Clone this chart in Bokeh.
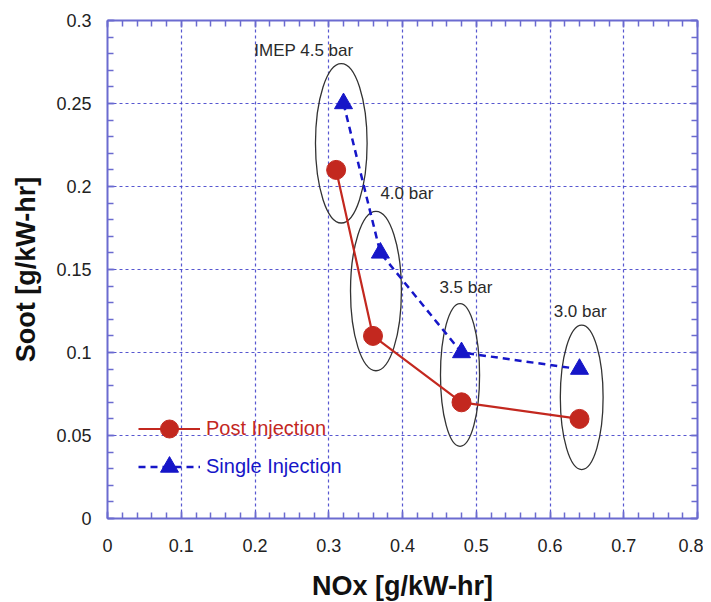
import numpy as np
from bokeh.plotting import figure
from bokeh.models import (LinearAxis, FixedTicker, CustomJSTickFormatter, Legend,
                          LegendItem, Range1d)
from bokeh.core.properties import value
from bokeh.embed import file_html
from bokeh.resources import INLINE

# ---- data ----
post_nox = [0.31, 0.36, 0.48, 0.64]
post_soot = [0.21, 0.11, 0.07, 0.06]
single_nox = [0.32, 0.37, 0.48, 0.64]
single_soot = [0.25, 0.16, 0.10, 0.09]

ell_x = [0.317, 0.364, 0.478, 0.643]
ell_y = [0.226, 0.137, 0.0865, 0.073]
ell_w = [0.070, 0.069, 0.053, 0.058]
ell_h = [0.096, 0.096, 0.086, 0.087]

ann_text = ["IMEP 4.5 bar", "4.0 bar", "3.5 bar", "3.0 bar"]
ann_x = [0.199, 0.37, 0.45, 0.605]
ann_y = [0.282, 0.196, 0.139, 0.125]

x_ticks = [0, 0.1, 0.2, 0.3, 0.4, 0.5, 0.6, 0.7, 0.8]
y_ticks = [0, 0.05, 0.1, 0.15, 0.2, 0.25, 0.3]
x_minor = [round(v, 3) for v in np.arange(0, 0.8001, 0.02)]
y_minor = [round(v, 3) for v in np.arange(0, 0.3001, 0.01)]

FONT = "Liberation Sans"
AXIS_BLUE = "#6b6bd0"
GRID_BLUE = "#3a3ac8"
RED = "#c3281f"
BLUE = "#1616c8"

p = figure(frame_width=590, frame_height=498, output_backend="svg", toolbar_location=None,
           x_range=Range1d(0, 0.8), y_range=Range1d(0, 0.3),
           min_border_left=107, min_border_right=6, min_border_top=20, min_border_bottom=72,
           background_fill_color="white", border_fill_color="white")
p.outline_line_color = None

fmt = CustomJSTickFormatter(code="""
var s = tick.toFixed(2);
s = s.replace(/0+$/, '').replace(/\\.$/, '');
return s;
""")
blank = CustomJSTickFormatter(code="return '';")

def style_axis(ax, ticks, minor, show_labels):
    ax.ticker = FixedTicker(ticks=ticks, minor_ticks=minor)
    ax.axis_line_color = AXIS_BLUE
    ax.axis_line_width = 2
    ax.major_tick_line_color = AXIS_BLUE
    ax.minor_tick_line_color = AXIS_BLUE
    ax.major_tick_line_width = 1.5
    ax.minor_tick_line_width = 1.5
    ax.major_tick_in = 7
    ax.major_tick_out = 0
    ax.minor_tick_in = 6
    ax.minor_tick_out = 0
    if show_labels:
        ax.formatter = fmt
        ax.major_label_text_font = FONT
        ax.major_label_text_font_size = "18px"
        ax.major_label_text_color = "#222222"
    else:
        ax.formatter = blank
        ax.major_label_standoff = 0

xa = p.xaxis[0]
ya = p.yaxis[0]
style_axis(xa, x_ticks, x_minor, True)
style_axis(ya, y_ticks, y_minor, True)
xa.major_label_standoff = 20
ya.major_label_standoff = 16
xa.axis_label = "NOx [g/kW-hr]"
ya.axis_label = "Soot [g/kW-hr]"
for ax in (xa, ya):
    ax.axis_label_text_font = FONT
    ax.axis_label_text_font_size = "27px"
    ax.axis_label_text_font_style = "bold"
    ax.axis_label_text_color = "#111111"
xa.axis_label_standoff = 16
ya.axis_label_standoff = 12

top = LinearAxis()
style_axis(top, x_ticks, x_minor, False)
p.add_layout(top, "above")
right = LinearAxis()
style_axis(right, y_ticks, y_minor, False)
p.add_layout(right, "right")

for g, t in ((p.xgrid[0], x_ticks), (p.ygrid[0], y_ticks)):
    g.ticker = FixedTicker(ticks=t)
    g.grid_line_color = GRID_BLUE
    g.grid_line_dash = "3 3"
    g.grid_line_width = 1.2
    g.grid_line_alpha = 0.85

# ellipses
p.ellipse(x=ell_x, y=ell_y, width=ell_w, height=ell_h, fill_color=None,
          line_color="#333333", line_width=1.3)

# series
pl = p.line(post_nox, post_soot, line_color=RED, line_width=2.2)
pc = p.scatter(post_nox, post_soot, marker="circle", size=19, fill_color=RED, line_color=RED)
sl = p.line(single_nox, single_soot, line_color=BLUE, line_width=2.5, line_dash="7 5")
sc = p.scatter(single_nox, single_soot, marker="triangle", size=18, fill_color=BLUE, line_color=BLUE)

# annotations
p.text(x=ann_x, y=ann_y, text=ann_text, text_font=value(FONT), text_font_size="17px",
       text_color="#2a2a2a", text_baseline="middle", text_align="left")

# legends
def make_legend(label, rends, color, loc):
    lg = Legend(items=[LegendItem(label=label, renderers=rends)], location=loc,
                border_line_color=None, background_fill_alpha=0, padding=0, margin=0,
                glyph_width=62, glyph_height=45, label_height=45, label_standoff=6,
                label_text_font=FONT, label_text_font_size="20px", label_text_color=color)
    p.add_layout(lg, "center")

make_legend("Post Injection", [pl, pc], RED, (31, 67))
make_legend("Single Injection", [sl, sc], BLUE, (31, 29))

open("out.html", "w").write(file_html(p, INLINE))
